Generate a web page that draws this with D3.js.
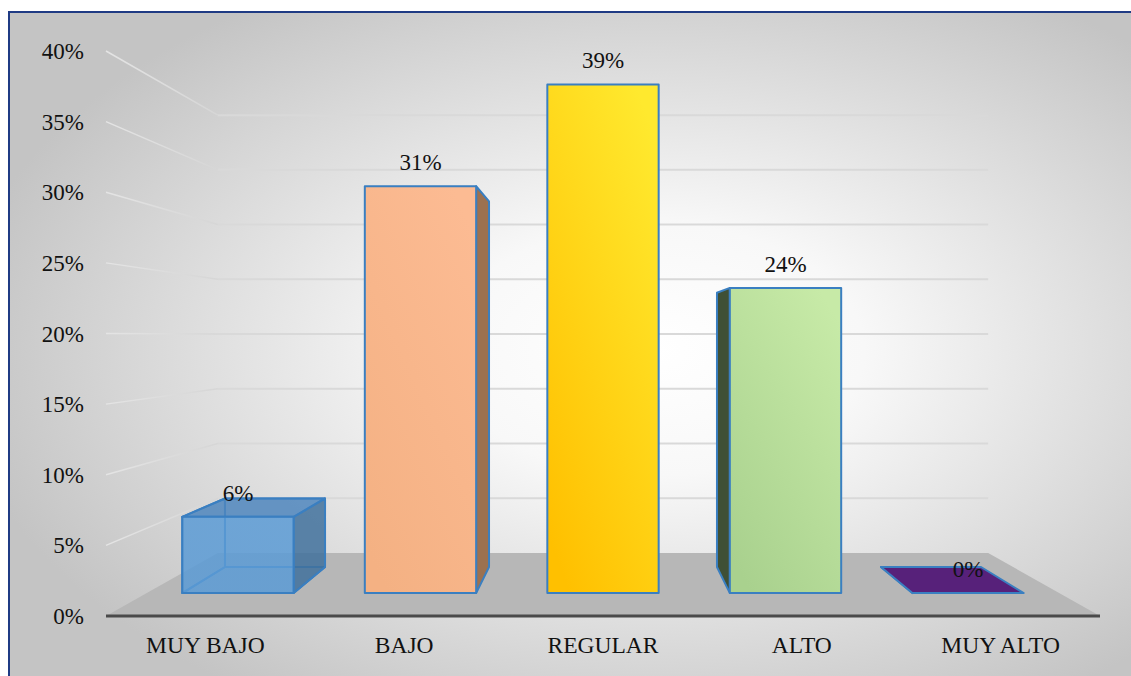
<!DOCTYPE html>
<html>
<head>
<meta charset="utf-8">
<script src="https://cdn.jsdelivr.net/npm/d3@7"></script>
<style>
  body { margin: 0; background: #fff; }
</style>
</head>
<body>
<div id="chart"></div>
<script>
// data
const categories = ["MUY BAJO", "BAJO", "REGULAR", "ALTO", "MUY ALTO"];
const values = [0.0588, 0.3137, 0.3922, 0.2353, 0];
const valueLabels = ["6%", "31%", "39%", "24%", "0%"];
const yTicks = [0, 0.05, 0.10, 0.15, 0.20, 0.25, 0.30, 0.35, 0.40];
const yTickLabels = ["0%", "5%", "10%", "15%", "20%", "25%", "30%", "35%", "40%"];

// styles per bar
const frontTop = ["#5b9bd5", "#fcbb93", "#ffe92e", "#c7eaa7", "#57217a"];
const frontBottom = ["#5b9bd5", "#f4b183", "#ffc000", "#a9d18e", "#57217a"];
const sideColors = ["#41719c", "#9c7150", "#a07e10", "#3f5036", "#3b1553"];
const topColors = ["#4f86bd", "#f4b183", "#ffd000", "#b5dc97", "#57217a"];
const opacities = [0.85, 1, 1, 1, 1];

const W = 1131, H = 676;
const vx = 603, vy = 336; // vanishing point
const FONT = "Liberation Serif";

const svg = d3.select("#chart").append("svg")
  .attr("width", W).attr("height", H);

const defs = svg.append("defs");
const bg = defs.append("radialGradient").attr("id", "bg")
  .attr("cx", 0.57).attr("cy", 0.5).attr("r", 0.62);
bg.append("stop").attr("offset", 0).attr("stop-color", "#ffffff");
bg.append("stop").attr("offset", 0.3).attr("stop-color", "#f8f8f8");
bg.append("stop").attr("offset", 1).attr("stop-color", "#c4c4c4");

const sideFade = defs.append("linearGradient").attr("id", "sidefade")
  .attr("gradientUnits", "userSpaceOnUse")
  .attr("x1", 106).attr("x2", 218).attr("y1", 0).attr("y2", 0);
sideFade.append("stop").attr("offset", 0).attr("stop-color", "#e4e4e4");
sideFade.append("stop").attr("offset", 1).attr("stop-color", "#d6d6d6");

categories.forEach((c, i) => {
  const g = defs.append("linearGradient").attr("id", "bar" + i)
    .attr("x1", 0.8).attr("y1", 0).attr("x2", 0.2).attr("y2", 1);
  g.append("stop").attr("offset", 0).attr("stop-color", frontTop[i]);
  g.append("stop").attr("offset", 1).attr("stop-color", frontBottom[i]);
});

svg.append("rect")
  .attr("x", 9).attr("y", 12).attr("width", W).attr("height", H)
  .attr("fill", "url(#bg)")
  .attr("stroke", "#1f3b84").attr("stroke-width", 2);

// scales in the front plane
const x = d3.scaleBand()
  .domain(categories)
  .range([106, 1100])
  .paddingInner(0.39)
  .paddingOuter(0.195);

const y = d3.scaleLinear()
  .domain([0, 0.4])
  .range([616, 51]);

// depth 0 = front of floor, 1 = back wall
const depth = d3.scaleLinear().domain([0, 1]).range([1, 0.775]);

function project(X, v, z) {
  const s = depth(z);
  return [vx + (X - vx) * s, vy + (y(v) - vy) * s];
}
const line = pts => "M" + pts.map(p => p.join(",")).join("L") + "Z";

// floor
const x0f = x.range()[0], x1f = x.range()[1];
svg.append("path")
  .attr("d", line([project(x0f, 0, 0), project(x1f, 0, 0), project(x1f, 0, 1), project(x0f, 0, 1)]))
  .attr("fill", "#b7b7b7");

// back wall and side wall gridlines
const grid = svg.append("g");
grid.selectAll(".back")
  .data(yTicks.filter(d => d > 0))
  .join("line")
  .attr("x1", d => project(x0f, d, 1)[0])
  .attr("y1", d => project(x0f, d, 1)[1])
  .attr("x2", d => project(x1f, d, 1)[0])
  .attr("y2", d => project(x1f, d, 1)[1])
  .attr("stroke", "#d9d9d9").attr("stroke-width", 2);
grid.selectAll(".side")
  .data(yTicks.filter(d => d > 0))
  .join("line")
  .attr("x1", d => project(x0f, d, 0)[0])
  .attr("y1", d => project(x0f, d, 0)[1])
  .attr("x2", d => project(x0f, d, 1)[0])
  .attr("y2", d => project(x0f, d, 1)[1])
  .attr("stroke", "url(#sidefade)").attr("stroke-width", 1.5);

// bars
const zF = 0.364, zB = 0.778;
const bw = x.bandwidth();
const barStroke = "#3a7fc1";

categories.forEach((c, i) => {
  const v = values[i];
  const a = x(c), b = a + bw;
  const g = svg.append("g");
  const face = (pts, fill, op) => g.append("path")
    .attr("d", line(pts))
    .attr("fill", fill)
    .attr("fill-opacity", op)
    .attr("stroke", barStroke)
    .attr("stroke-width", 2)
    .attr("stroke-linejoin", "round");

  const front = [project(a, 0, zF), project(b, 0, zF), project(b, v, zF), project(a, v, zF)];
  const back = [project(a, 0, zB), project(b, 0, zB), project(b, v, zB), project(a, v, zB)];
  const left = [project(a, 0, zF), project(a, 0, zB), project(a, v, zB), project(a, v, zF)];
  const right = [project(b, 0, zF), project(b, 0, zB), project(b, v, zB), project(b, v, zF)];
  const topF = [project(a, v, zF), project(b, v, zF), project(b, v, zB), project(a, v, zB)];
  const bottom = [project(a, 0, zF), project(b, 0, zF), project(b, 0, zB), project(a, 0, zB)];

  const op = opacities[i];
  if (op < 1) {
    // see-through box: hidden edges show
    face(back, "none", 0);
    face(bottom, "none", 0);
    face(left, "none", 0);
  }
  if (front[1][0] < vx) face(right, sideColors[i], op);
  if (front[0][0] > vx) face(left, sideColors[i], op);
  if (v === 0 || front[3][1] > vy) face(topF, topColors[i], op);
  if (v > 0) face(front, "url(#bar" + i + ")", op);

  const lx = (front[0][0] + front[1][0]) / 2;
  svg.append("text")
    .attr("x", lx)
    .attr("y", front[3][1] - 16)
    .attr("text-anchor", "middle")
    .attr("font-family", FONT)
    .attr("font-size", 23)
    .attr("fill", "#111")
    .text(valueLabels[i]);
});

// front edge of floor
svg.append("line")
  .attr("x1", project(x0f, 0, 0)[0]).attr("y1", project(x0f, 0, 0)[1])
  .attr("x2", project(x1f, 0, 0)[0]).attr("y2", project(x1f, 0, 0)[1])
  .attr("stroke", "#4a4a4a").attr("stroke-width", 3);

// y axis labels
svg.append("g").selectAll("text")
  .data(yTicks)
  .join("text")
  .attr("x", 84)
  .attr("y", d => y(d))
  .attr("dy", "0.35em")
  .attr("text-anchor", "end")
  .attr("font-family", FONT)
  .attr("font-size", 23)
  .attr("fill", "#111")
  .text((d, i) => yTickLabels[i]);

// category labels
svg.append("g").selectAll("text")
  .data(categories)
  .join("text")
  .attr("x", d => x(d) + bw / 2)
  .attr("y", 653)
  .attr("text-anchor", "middle")
  .attr("font-family", FONT)
  .attr("font-size", 23.5)
  .attr("fill", "#111")
  .text(d => d);
</script>
</body>
</html>
